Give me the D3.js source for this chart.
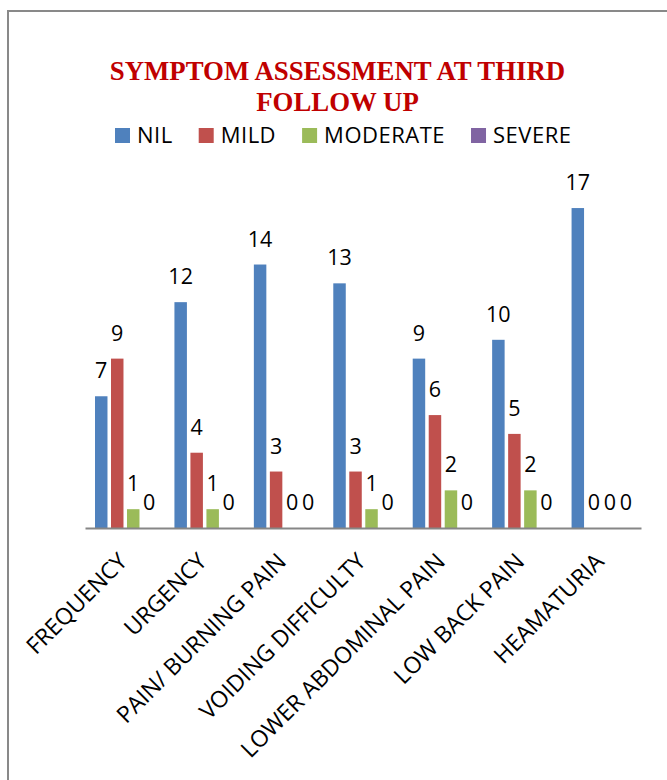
<!DOCTYPE html>
<html>
<head>
<meta charset="utf-8">
<script src="https://cdn.jsdelivr.net/npm/d3@7/dist/d3.min.js"></script>
<style>
  html, body { margin: 0; padding: 0; background: #fff; }
  svg { display: block; }
</style>
</head>
<body>
<script>
// Symptom categories along the x axis
const categories = [
  "FREQUENCY",
  "URGENCY",
  "PAIN/ BURNING PAIN",
  "VOIDING DIFFICULTY",
  "LOWER ABDOMINAL PAIN",
  "LOW BACK PAIN",
  "HEAMATURIA"
];

// Severity series
const seriesNames = ["NIL", "MILD", "MODERATE", "SEVERE"];
const seriesColors = ["#4F81BD", "#C0504D", "#9BBB59", "#8064A2"];

// Patient counts per severity, one value per category
const nilValues      = [7, 12, 14, 13, 9, 10, 17];
const mildValues     = [9, 4, 3, 3, 6, 5, 0];
const moderateValues = [1, 1, 0, 1, 2, 2, 0];
const severeValues   = [0, 0, 0, 0, 0, 0, 0];

const seriesValues = [nilValues, mildValues, moderateValues, severeValues];

const titleLines = ["SYMPTOM ASSESSMENT AT THIRD", "FOLLOW UP"];

const W = 667, H = 780;
const svg = d3.select("body").append("svg")
  .attr("width", W).attr("height", H);

// Outer chart frame
svg.append("rect")
  .attr("x", 8).attr("y", 11)
  .attr("width", W + 20).attr("height", H + 20)
  .attr("fill", "none")
  .attr("stroke", "#898989")
  .attr("stroke-width", 2);

// Title
const title = svg.append("text")
  .attr("text-anchor", "middle")
  .attr("font-family", "'Liberation Serif', 'Times New Roman', serif")
  .attr("font-weight", "bold")
  .attr("font-size", 26.8)
  .attr("fill", "#C00000");
titleLines.forEach((t, i) => {
  title.append("tspan").attr("x", 337.5).attr("y", 79.5 + i * 31).text(t);
});

// Legend
const legendFont = "'Open Sans', sans-serif";
const legend = svg.append("g");
let lx = 115;
seriesNames.forEach((name, i) => {
  const g = legend.append("g");
  g.append("rect")
    .attr("x", lx).attr("y", 128)
    .attr("width", 15).attr("height", 15)
    .attr("fill", seriesColors[i]);
  const t = g.append("text")
    .attr("x", lx + 22).attr("y", 143)
    .attr("font-family", legendFont)
    .attr("font-size", 22)
    .attr("letter-spacing", 0.5)
    .attr("fill", "#000")
    .text(name);
  lx += 22 + t.node().getComputedTextLength() + 26;
});

// Plot area
const plot = { left: 85, right: 641, bottom: 528, unit: 18.82 };
const yMax = 18;

const x0 = d3.scaleBand()
  .domain(categories)
  .range([plot.left, plot.right]);

const x1 = d3.scaleBand()
  .domain(seriesNames)
  .range([10, 74]);

const y = d3.scaleLinear()
  .domain([0, yMax])
  .range([plot.bottom, plot.bottom - yMax * plot.unit]);

const barW = x1.bandwidth() * 0.78;

const rows = [];
categories.forEach((c, ci) => {
  seriesNames.forEach((s, si) => {
    rows.push({ cat: c, series: s, si: si, value: seriesValues[si][ci] });
  });
});

// Bars
svg.append("g").selectAll("rect")
  .data(rows)
  .join("rect")
  .attr("x", d => x0(d.cat) + x1(d.series))
  .attr("y", d => y(d.value))
  .attr("width", barW)
  .attr("height", d => y(0) - y(d.value))
  .attr("fill", d => seriesColors[d.si]);

// Value labels
svg.append("g").selectAll("text")
  .data(rows)
  .join("text")
  .attr("x", d => x0(d.cat) + x1(d.series) + barW / 2)
  .attr("y", d => y(d.value) - 18)
  .attr("text-anchor", "middle")
  .attr("font-family", legendFont)
  .attr("font-size", 21.5)
  .attr("fill", "#000")
  .text(d => d.value);

// X axis line and rotated category labels
const xAxis = d3.axisBottom(x0).tickSize(0).tickPadding(0);
const axisG = svg.append("g")
  .attr("transform", `translate(0,${plot.bottom})`)
  .call(xAxis);
axisG.select(".domain")
  .attr("stroke", "#868686")
  .attr("stroke-width", 2);
axisG.selectAll(".tick text")
  .attr("font-family", legendFont)
  .attr("font-size", 23)
  .attr("fill", "#000")
  .attr("text-anchor", "end")
  .attr("dy", 0)
  .attr("x", 0)
  .attr("y", 0)
  .attr("transform", "translate(4,35) rotate(-45)");
</script>
</body>
</html>
